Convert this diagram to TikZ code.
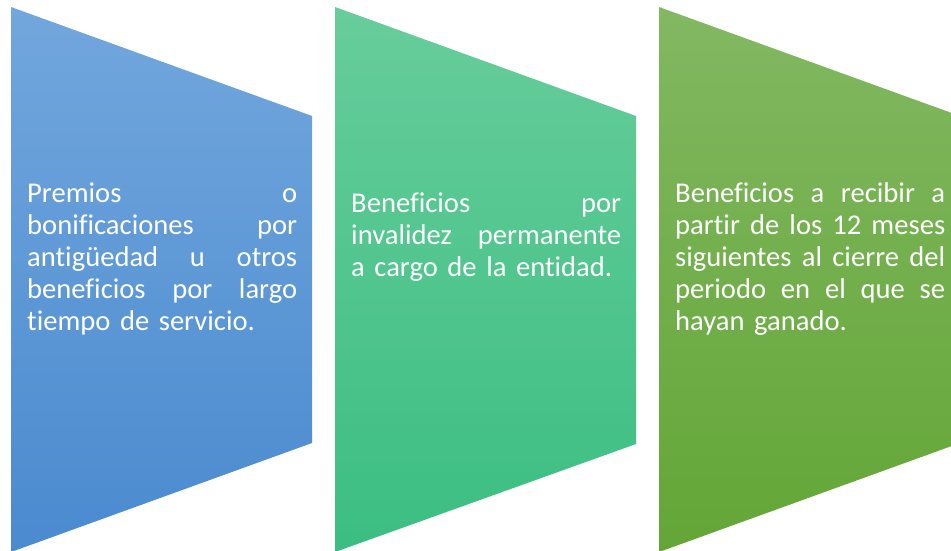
\documentclass[tikz,border=0pt]{standalone}
\usepackage{fontspec}
\setmainfont[Ligatures={NoCommon,NoRare,NoContextual}]{Carlito}
\definecolor{blueTop}{HTML}{72A7DD}
\definecolor{blueBot}{HTML}{4A8ACF}
\definecolor{greenTop}{HTML}{67CD9B}
\definecolor{greenBot}{HTML}{3BBE82}
\definecolor{oliveTop}{HTML}{82B862}
\definecolor{oliveBot}{HTML}{63A636}
\tikzset{
  chevtext/.style={anchor=base west, inner sep=0pt, text width=270pt, align=left,
    text=white, font=\fontsize{28.6}{32.2}\selectfont},
}
\newcommand{\jline}[1]{\leavevmode\hbox to 270pt{#1}}
\newcommand{\gapsp}{\hfill}
\begin{document}
\begin{tikzpicture}[x=1pt,y=-1pt]
\useasboundingbox (0,0) rectangle (951,550);
\clip (0,0) rectangle (951,550);
\shade[top color=blueTop, bottom color=blueBot] (11,7) -- (312,116) -- (312,443) -- (11,552) -- cycle;
\shade[top color=greenTop, bottom color=greenBot] (335,7) -- (636,116) -- (636,444) -- (335,552) -- cycle;
\shade[top color=oliveTop, bottom color=oliveBot] (659,7) -- (960,116) -- (960,443) -- (659,552) -- cycle;
\node[chevtext] (t1) at (27,202) {\jline{Premios\gapsp o}\\\jline{bonificaciones\gapsp por}\\\jline{antigüedad\gapsp u\gapsp otros}\\\jline{beneficios\gapsp por\gapsp largo}\\tiempo de servicio.};
\node[chevtext] (t2) at (351,212) {\jline{Beneficios\gapsp por}\\\jline{invalidez\gapsp permanente}\\a cargo de la entidad.};
\node[chevtext] (t3) at (675,202) {\jline{Beneficios\gapsp a\gapsp recibir\gapsp a}\\\jline{partir\gapsp de\gapsp los\gapsp 12\gapsp meses}\\\jline{siguientes\gapsp al\gapsp cierre\gapsp del}\\\jline{periodo\gapsp en\gapsp el\gapsp que\gapsp se}\\hayan ganado.};
\end{tikzpicture}
\end{document}
